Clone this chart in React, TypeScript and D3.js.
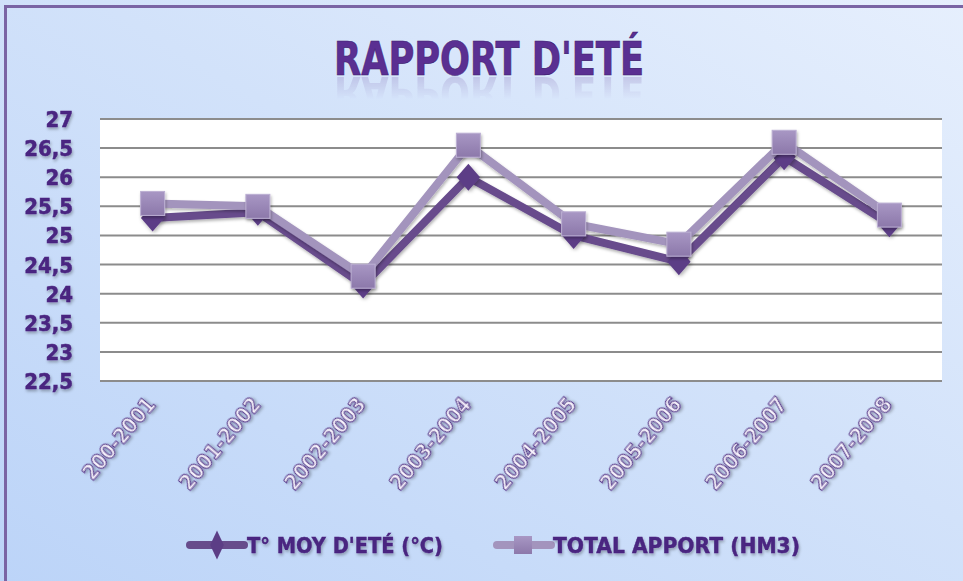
import { useEffect, useRef } from "react";
import { select, scaleLinear, scaleBand, line, symbol, symbolDiamond } from "d3";

const seasons = ["200-2001", "2001-2002", "2002-2003", "2003-2004", "2004-2005", "2005-2006", "2006-2007", "2007-2008"];
const tempMoy = [25.3, 25.4, 24.15, 26.0, 25.0, 24.55, 26.35, 25.2];
const totalApport = [25.55, 25.5, 24.3, 26.55, 25.2, 24.85, 26.6, 25.35];
const yTicks = [22.5, 23, 23.5, 24, 24.5, 25, 25.5, 26, 26.5, 27];
const seriesNames = ["T° MOY D'ETÉ (°C)", "TOTAL APPORT (HM3)"];

const W = 963;
const H = 581;
const FONT = "'DejaVu Sans Condensed', 'DejaVu Sans', sans-serif";

const App = () => {
  const svgRef = useRef(null);

  useEffect(() => {
    const svg = select(svgRef.current);
    svg.selectAll("*").remove();

    const margin = { top: 119, right: 21, bottom: 200, left: 100 };

    const defs = svg.append("defs");
    const bg = defs.append("linearGradient").attr("id", "bg").attr("x1", 0).attr("y1", 1).attr("x2", 1).attr("y2", 0);
    bg.append("stop").attr("offset", "0%").attr("stop-color", "#bcd4f8");
    bg.append("stop").attr("offset", "55%").attr("stop-color", "#d2e2fa");
    bg.append("stop").attr("offset", "100%").attr("stop-color", "#e6effd");

    const sq = defs.append("linearGradient").attr("id", "sq").attr("x1", 0).attr("y1", 0).attr("x2", 0).attr("y2", 1);
    sq.append("stop").attr("offset", "0%").attr("stop-color", "#a897c4");
    sq.append("stop").attr("offset", "100%").attr("stop-color", "#8c78aa");

    const fade = defs.append("linearGradient").attr("id", "fade").attr("x1", 0).attr("y1", 0).attr("x2", 0).attr("y2", 1);
    fade.append("stop").attr("offset", "0%").attr("stop-color", "#fff").attr("stop-opacity", 0.35);
    fade.append("stop").attr("offset", "60%").attr("stop-color", "#fff").attr("stop-opacity", 0);
    defs.append("mask").attr("id", "fadeMask").attr("maskContentUnits", "objectBoundingBox")
      .append("rect").attr("width", 1).attr("height", 1).attr("fill", "url(#fade)");

    const shadow = defs.append("filter").attr("id", "shadow").attr("x", "-20%").attr("y", "-20%").attr("width", "140%").attr("height", "160%");
    shadow.append("feDropShadow").attr("dx", 1).attr("dy", 2).attr("stdDeviation", 1.5).attr("flood-color", "#000").attr("flood-opacity", 0.3);

    // background and frame
    svg.append("rect").attr("width", W).attr("height", H).attr("fill", "url(#bg)");
    svg.append("rect").attr("x", 5.5).attr("y", 6.5).attr("width", W + 20).attr("height", H + 20)
      .attr("fill", "none").attr("stroke", "#7a64a4").attr("stroke-width", 3);

    // title + reflection (reflection reuses the title glyphs)
    defs.append("text").attr("id", "titleText")
      .attr("x", 489).attr("y", 75).attr("text-anchor", "middle")
      .attr("font-family", FONT).attr("font-weight", "bold").attr("font-size", 47)
      .attr("textLength", 310).attr("lengthAdjust", "spacingAndGlyphs")
      .text("RAPPORT D'ETÉ");
    svg.append("g").attr("mask", "url(#fadeMask)")
      .append("use").attr("href", "#titleText")
      .attr("transform", "translate(0,152) scale(1,-1)").attr("fill", "#7a5fae");
    svg.append("use").attr("href", "#titleText")
      .attr("fill", "#5a2f92").attr("stroke", "#3d1c6e").attr("stroke-width", 0.6);

    const x = scaleBand().domain(seasons).range([margin.left, W - margin.right]);
    const y = scaleLinear().domain([22.5, 27]).range([H - margin.bottom, margin.top]);
    const cx = (d) => x(d) + x.bandwidth() / 2;

    // plot area
    svg.append("rect").attr("x", margin.left).attr("y", margin.top)
      .attr("width", W - margin.left - margin.right).attr("height", H - margin.top - margin.bottom)
      .attr("fill", "#fff");

    svg.append("g").selectAll("line").data(yTicks).enter().append("line")
      .attr("x1", margin.left).attr("x2", W - margin.right)
      .attr("y1", (d) => y(d)).attr("y2", (d) => y(d))
      .attr("stroke", "#8c8c8c").attr("stroke-width", 2);

    // y labels
    svg.append("g").selectAll("text").data(yTicks).enter().append("text")
      .attr("x", 73).attr("y", (d) => y(d) + 8)
      .attr("text-anchor", "end").attr("font-family", FONT).attr("font-weight", "bold")
      .attr("font-size", 22).attr("fill", "#4a2580").attr("stroke", "#4a2580").attr("stroke-width", 0.5)
      .attr("filter", "url(#shadow)")
      .text((d) => String(d).replace(".", ","));

    // x labels
    svg.append("g").selectAll("text").data(seasons).enter().append("text")
      .attr("transform", (d) => `translate(${cx(d) + 4},${H - margin.bottom + 24}) rotate(-50)`)
      .attr("text-anchor", "end").attr("font-family", FONT).attr("font-weight", "bold")
      .attr("font-size", 21).attr("fill", "#f6f2fc").attr("stroke", "#5a3a8c").attr("stroke-width", 1.1)
      .attr("filter", "url(#shadow)")
      .text((d) => d);

    const lineGen = line().x((d) => cx(d[0])).y((d) => y(d[1]));
    const rows1 = seasons.map((s, i) => [s, tempMoy[i]]);
    const rows2 = seasons.map((s, i) => [s, totalApport[i]]);
    const diamond = symbol().type(symbolDiamond).size(260);

    // dark series
    svg.append("path").datum(rows1).attr("d", lineGen).attr("fill", "none")
      .attr("stroke", "#674c8c").attr("stroke-width", 8).attr("stroke-linejoin", "bevel")
      .attr("filter", "url(#shadow)");
    svg.append("g").selectAll("path").data(rows1).enter().append("path")
      .attr("transform", (d) => `translate(${cx(d[0])},${y(d[1])}) scale(1.35,0.9)`)
      .attr("d", diamond)
      .attr("fill", "#5c3e86").attr("filter", "url(#shadow)");

    // light series
    svg.append("path").datum(rows2).attr("d", lineGen).attr("fill", "none")
      .attr("stroke", "#a394bd").attr("stroke-width", 8).attr("stroke-linejoin", "bevel")
      .attr("filter", "url(#shadow)");
    svg.append("g").selectAll("rect").data(rows2).enter().append("rect")
      .attr("x", (d) => cx(d[0]) - 12).attr("y", (d) => y(d[1]) - 12)
      .attr("width", 24).attr("height", 24)
      .attr("fill", "url(#sq)").attr("stroke", "#bcb0d3").attr("stroke-width", 1)
      .attr("filter", "url(#shadow)");

    // legend
    const leg = svg.append("g");
    const legY = 545;
    leg.append("line").attr("x1", 190).attr("x2", 244).attr("y1", legY).attr("y2", legY)
      .attr("stroke", "#674c8c").attr("stroke-width", 8).attr("stroke-linecap", "round");
    leg.append("path").attr("transform", `translate(217,${legY}) scale(0.9,1.1)`)
      .attr("d", symbol().type(symbolDiamond).size(200)).attr("fill", "#5c3e86");
    leg.append("line").attr("x1", 497).attr("x2", 551).attr("y1", legY).attr("y2", legY)
      .attr("stroke", "#a394bd").attr("stroke-width", 8).attr("stroke-linecap", "round");
    leg.append("rect").attr("x", 514).attr("y", legY - 9).attr("width", 18).attr("height", 18)
      .attr("fill", "url(#sq)");
    leg.selectAll("text").data(seriesNames).enter().append("text")
      .attr("x", (d, i) => [247, 553][i]).attr("y", legY + 8)
      .attr("font-family", FONT).attr("font-weight", "bold").attr("font-size", 22)
      .attr("fill", "#4a2580").attr("stroke", "#4a2580").attr("stroke-width", 0.4)
      .attr("filter", "url(#shadow)")
      .attr("textLength", (d, i) => [196, 247][i]).attr("lengthAdjust", "spacingAndGlyphs")
      .text((d) => d);
  }, []);

  return (
    <div style={{ position: "absolute", left: 0, top: 0 }}>
      <svg ref={svgRef} width={W} height={H} style={{ display: "block" }}></svg>
    </div>
  );
};

export default App;
